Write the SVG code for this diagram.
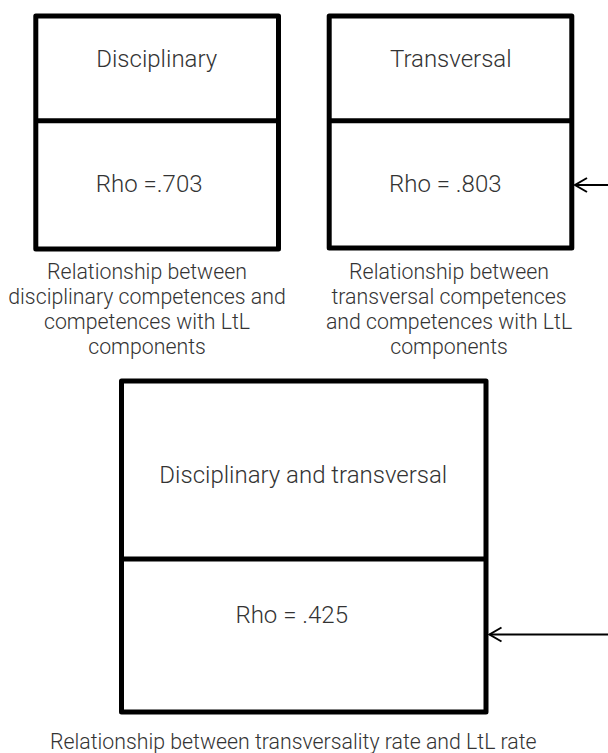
<svg xmlns="http://www.w3.org/2000/svg" width="608" height="753" viewBox="0 0 608 753">
<style>
.box{fill:#fff;stroke:#000;stroke-width:5;stroke-linejoin:round}
.div{stroke:#000;stroke-width:5}
.t{font-family:Roboto,"Liberation Sans",sans-serif;font-weight:300;font-size:24px;fill:#333;text-anchor:middle}
.c{font-family:Roboto,"Liberation Sans",sans-serif;font-weight:300;font-size:21.3px;fill:#333;text-anchor:middle}
.conn{stroke:#000;stroke-width:2;fill:none}
.head{stroke:#000;stroke-width:2;fill:none;stroke-linejoin:miter}
</style>
<rect width="608" height="753" fill="#fff"/>
<g id="disciplinary">
<rect class="box" x="35.8" y="16" width="242.7" height="233"/>
<line class="div" x1="35.8" y1="120.8" x2="278.5" y2="120.8"/>
<text class="t" x="156.7" y="67">Disciplinary</text>
<text class="t" x="149.2" y="192">Rho =.703</text>
<text class="c" x="147" y="279">Relationship between</text>
<text class="c" x="147" y="304">disciplinary competences and</text>
<text class="c" x="147" y="329">competences with LtL</text>
<text class="c" x="147" y="354">components</text>
</g>
<g id="transversal">
<rect class="box" x="329.2" y="16" width="242.6" height="232"/>
<line class="div" x1="329.2" y1="120.8" x2="571.8" y2="120.8"/>
<text class="t" x="450.8" y="67">Transversal</text>
<text class="t" x="445.3" y="192">Rho = .803</text>
<text class="c" x="449" y="279">Relationship between</text>
<text class="c" x="449" y="304">transversal competences</text>
<text class="c" x="449" y="329">and competences with LtL</text>
<text class="c" x="449" y="354">components</text>
</g>
<g id="both">
<rect class="box" x="121.5" y="381" width="364.5" height="331"/>
<line class="div" x1="121.5" y1="559" x2="486" y2="559"/>
<text class="t" x="303.3" y="483">Disciplinary and transversal</text>
<text class="t" x="291.7" y="623">Rho = .425</text>
<text class="c" x="293.3" y="749">Relationship between transversality rate and LtL rate</text>
</g>
<g id="connectors">
<line class="conn" x1="608" y1="185" x2="575" y2="185"/>
<path class="head" d="M587,178 L575,185 L587,192"/>
<line class="conn" x1="608" y1="634.5" x2="489.5" y2="634.5"/>
<path class="head" d="M501.5,627.5 L489.5,634.5 L501.5,641.5"/>
</g>
</svg>
